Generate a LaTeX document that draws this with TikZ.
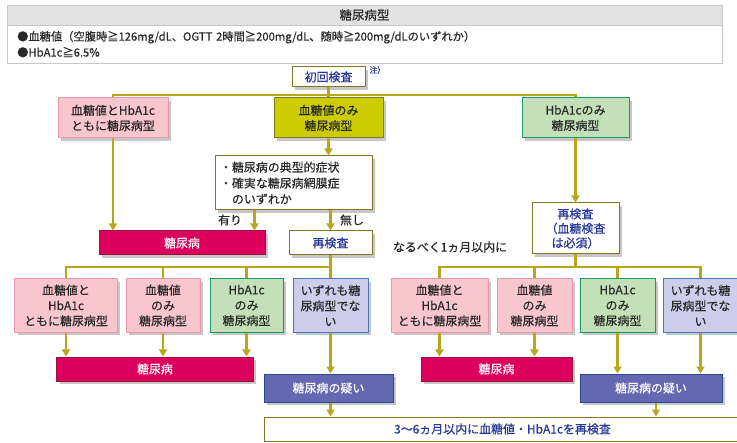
\documentclass[tikz,border=0pt]{standalone}
\usepackage{fontspec}
\setmainfont{Noto Sans CJK JP}[FakeBold=0.4]
\usetikzlibrary{arrows.meta,shadows}
\definecolor{linec}{RGB}{184,166,28}
\definecolor{pinkf}{RGB}{248,198,204}
\definecolor{pinkd}{RGB}{236,150,172}
\definecolor{olivef}{RGB}{204,204,0}
\definecolor{olived}{RGB}{128,120,30}
\definecolor{greenf}{RGB}{196,224,184}
\definecolor{greend}{RGB}{30,150,100}
\definecolor{lavf}{RGB}{206,206,234}
\definecolor{lavd}{RGB}{70,120,190}
\definecolor{redf}{RGB}{220,0,92}
\definecolor{redd}{RGB}{150,20,60}
\definecolor{bluef}{RGB}{100,104,176}
\definecolor{blued}{RGB}{40,72,150}
\definecolor{whited}{RGB}{130,118,40}
\definecolor{bluet}{RGB}{40,56,150}
\definecolor{textc}{RGB}{40,40,40}
\begin{document}
\begin{tikzpicture}[x=1bp,y=-1bp,
    conn/.style={draw=linec,line width=2.4bp},
    arr/.style={conn,-{Triangle[width=8bp,length=7bp]}},
    box/.style={draw,line width=1bp,inner sep=0pt,align=center,text=textc,
      font=\fontsize{12}{15.5}\selectfont,
      drop shadow={shadow xshift=3bp,shadow yshift=-3bp,fill=black!22,opacity=1}},
    pinkbox/.style={box,fill=pinkf,draw=pinkd},
    olivebox/.style={box,fill=olivef,draw=olived},
    greenbox/.style={box,fill=greenf,draw=greend},
    lavbox/.style={box,fill=lavf,draw=lavd},
    redbox/.style={box,fill=redf,draw=redd,text=white},
    bluebox/.style={box,fill=bluef,draw=blued,text=white},
    whitebox/.style={box,fill=white,draw=whited},
    lbl/.style={text=textc,font=\fontsize{12}{14}\selectfont}]
    \useasboundingbox (0,0) rectangle (737,443);
    % header
    \node[fill=black!11,draw=black!22,minimum width=715bp,minimum height=20bp,inner sep=0pt,
      text=textc,font=\fontsize{12.5}{14}\selectfont] at (364.5,15) (head) {糖尿病型};
    \node[fill=white,draw=black!22,anchor=north west,text width=695bp,inner xsep=10bp,
      minimum height=38bp,align=left,text=textc,font=\fontsize{11.3}{16}\selectfont] at (7,25) (crit)
      {●血糖値（空腹時≧126mg/dL、OGTT 2時間≧200mg/dL、随時≧200mg/dLのいずれか）\\●HbA1c≧6.5\%};
    \node[whitebox,text=bluet,minimum width=73bp,minimum height=20bp] at (328.5,77) (first) {初回検査};
    \node[anchor=west,text=bluet,font=\fontsize{8}{9}\selectfont] at (366,70) (note) {注）};
    %% first row
    \node[pinkbox,minimum width=110bp,minimum height=40bp] at (113,118) (b1) {血糖値とHbA1c\\ともに糖尿病型};
    \node[olivebox,minimum width=109bp,minimum height=40bp] at (328.5,118) (b2) {血糖値のみ\\糖尿病型};
    \node[greenbox,minimum width=107bp,minimum height=40bp] at (575.5,118) (b3) {HbA1cのみ\\糖尿病型};
    \coordinate (j1) at (328.5,95);
    \draw[conn] (first) -- (b2);
    \draw[conn] (b1.north) |- (j1) -| (b3.north);
    % middle branch
    \node[whitebox,minimum width=157bp,minimum height=54bp,text width=147bp,inner xsep=5bp,
      align=left,font=\fontsize{12}{16}\selectfont] at (293.5,183) (sym)
      {・糖尿病の典型的症状\\・確実な糖尿病網膜症\\\hspace*{1em}のいずれか};
    \node[redbox,minimum width=166bp,minimum height=24bp] at (182,243) (dm1) {糖尿病};
    \node[whitebox,text=bluet,minimum width=83bp,minimum height=24bp] at (330.5,243) (re1) {再検査};
    \node[lbl] at (230,220) (yes) {有り};
    \node[lbl] at (352,220) (no) {無し};
    \coordinate (y1) at ([xshift=-11bp]dm1.north east);
    \draw[arr] (b1.south) -- (b1.south |- dm1.north);
    \draw[arr] (b2.south) -- (b2.south |- sym.north);
    \draw[arr] (sym.south -| y1) -- (y1);
    \draw[arr] (sym.south -| re1.north) -- (re1.north);
    % right branch
    \node[whitebox,text=bluet,minimum width=87bp,minimum height=51bp,
      font=\fontsize{12}{14.5}\selectfont] at (575.5,228.5) (re2) {再検査\\（血糖検査\\は必須）};
    \node[lbl] at (450,247) (soon) {なるべく1ヵ月以内に};
    \draw[arr] (b3.south) -- (re2.north);
    %% second row, left
    \node[pinkbox,minimum width=102bp,minimum height=53bp] at (66,305.5) (l1) {血糖値と\\HbA1c\\ともに糖尿病型};
    \node[pinkbox,minimum width=74bp,minimum height=53bp] at (163,305.5) (l2) {血糖値\\のみ\\糖尿病型};
    \node[greenbox,minimum width=73bp,minimum height=53bp] at (246.5,305.5) (l3) {HbA1c\\のみ\\糖尿病型};
    \node[lavbox,minimum width=75bp,minimum height=53bp] at (330.5,305.5) (l4) {いずれも糖\\尿病型でな\\い};
    \coordinate (j2) at (330.5,267);
    \draw[conn] (re1.south) -- (j2);
    \draw[conn] (l1.north) |- (j2) -| (l4.north);
    \draw[conn] (j2 -| l2.north) -- (l2.north);
    \draw[conn] (j2 -| l3.north) -- (l3.north);
    \node[redbox,minimum width=196bp,minimum height=24bp] at (155,369) (dm2) {糖尿病};
    \node[bluebox,minimum width=129bp,minimum height=28bp] at (328.5,388) (sus1) {糖尿病の疑い};
    \draw[arr] (l1.south) -- (l1.south |- dm2.north);
    \draw[arr] (l2.south) -- (l2.south |- dm2.north);
    \draw[arr] (l3.south) -- (l3.south |- dm2.north);
    \draw[arr] (l4.south) -- (l4.south |- sus1.north);
    %% second row, right
    \node[pinkbox,minimum width=97bp,minimum height=53bp] at (439.5,305.5) (r1) {血糖値と\\HbA1c\\ともに糖尿病型};
    \node[pinkbox,minimum width=75bp,minimum height=53bp] at (534.5,305.5) (r2) {血糖値\\のみ\\糖尿病型};
    \node[greenbox,minimum width=75bp,minimum height=53bp] at (617.5,305.5) (r3) {HbA1c\\のみ\\糖尿病型};
    \node[lavbox,minimum width=75bp,minimum height=53bp] at (700.5,305.5) (r4) {いずれも糖\\尿病型でな\\い};
    \coordinate (j3) at (575.5,267);
    \draw[conn] (re2.south) -- (j3);
    \draw[conn] (r1.north) |- (j3) -| (r4.north);
    \draw[conn] (j3 -| r2.north) -- (r2.north);
    \draw[conn] (j3 -| r3.north) -- (r3.north);
    \node[redbox,minimum width=151bp,minimum height=24bp] at (496.5,369) (dm3) {糖尿病};
    \node[bluebox,minimum width=142bp,minimum height=28bp] at (651,388) (sus2) {糖尿病の疑い};
    \draw[arr] (r1.south) -- (r1.south |- dm3.north);
    \draw[arr] (r2.south) -- (r2.south |- dm3.north);
    \draw[arr] (r3.south) -- (r3.south |- sus2.north);
    \draw[arr] (r4.south) -- (r4.south |- sus2.north);
    % bottom
    \node[draw=whited,line width=1bp,fill=white,minimum width=477bp,minimum height=24bp,inner sep=0pt,
      text=bluet,font=\fontsize{12}{14}\selectfont] at (502.5,429) (fin) {3〜6ヵ月以内に血糖値・HbA1cを再検査};
    \coordinate (s2) at ([xshift=5bp]sus2.south);
    \draw[arr] (sus1.south -| l4.south) -- (fin.north -| l4.south);
    \draw[arr] (s2) -- (s2 |- fin.north);
\end{tikzpicture}
\end{document}
